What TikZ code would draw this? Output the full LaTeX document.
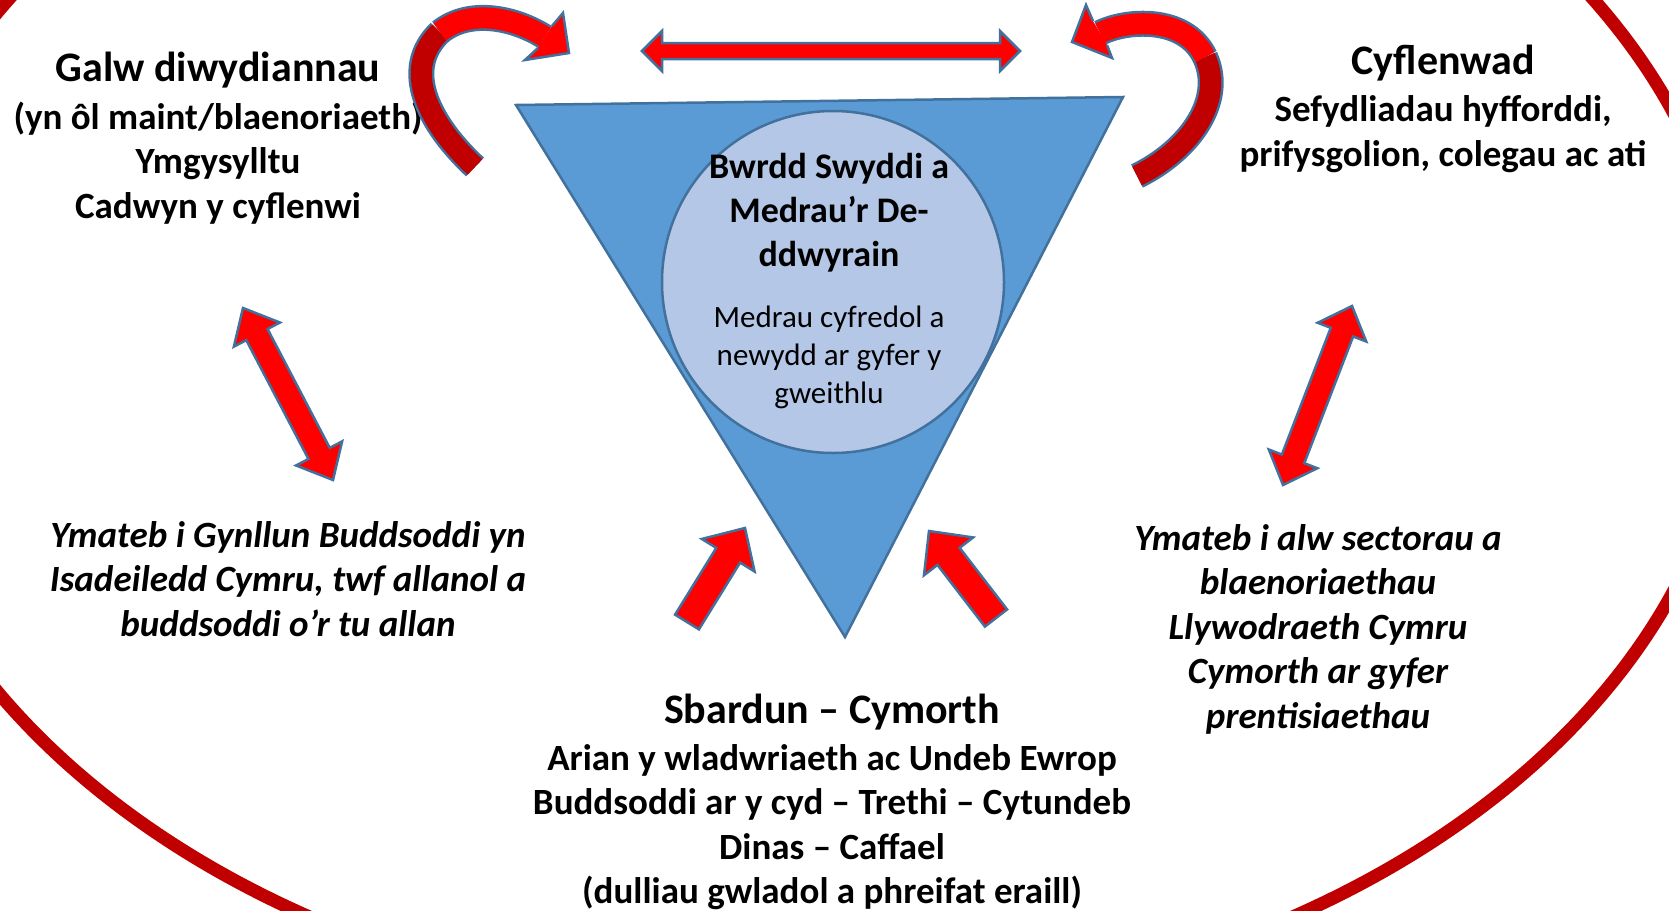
\documentclass[tikz,border=0pt]{standalone}
\usepackage{fontspec}
\setmainfont{Carlito}
\usetikzlibrary{calc,positioning}

\definecolor{edgeblue}{HTML}{41719C}
\definecolor{triblue}{HTML}{5B9BD5}
\definecolor{circblue}{HTML}{B4C7E7}
\definecolor{ringred}{HTML}{C00000}
\definecolor{arrowred}{HTML}{FF0000}

% double headed block arrow: from, to, head length, head half width, shaft half width
\newcommand{\dblarrow}[5]{%
  \draw[blockarrow] (#1)
    -- ($(#1)!#3!(#2)!#4!90:(#2)$) -- ($(#1)!#3!(#2)!#5!90:(#2)$)
    -- ($(#2)!#3!(#1)!#5!-90:(#1)$) -- ($(#2)!#3!(#1)!#4!-90:(#1)$)
    -- (#2)
    -- ($(#2)!#3!(#1)!#4!90:(#1)$) -- ($(#2)!#3!(#1)!#5!90:(#1)$)
    -- ($(#1)!#3!(#2)!#5!-90:(#2)$) -- ($(#1)!#3!(#2)!#4!-90:(#2)$) -- cycle;}
% single block arrow: tail, tip, head length, head half width, shaft half width
\newcommand{\blkarrow}[5]{%
  \draw[blockarrow] ($(#1)!#5!90:(#2)$)
    -- ($(#2)!#3!(#1)!#5!-90:(#1)$) -- ($(#2)!#3!(#1)!#4!-90:(#1)$)
    -- (#2)
    -- ($(#2)!#3!(#1)!#4!90:(#1)$) -- ($(#2)!#3!(#1)!#5!90:(#1)$)
    -- ($(#1)!#5!-90:(#2)$) -- cycle;}

\begin{document}
\begin{tikzpicture}[x=1bp, y=-1bp, on grid]
\tikzstyle{titletext} = [inner sep=0pt, align=center, font=\fontsize{42bp}{48bp}\selectfont\bfseries]
\tikzstyle{bodytext} = [inner sep=0pt, align=center, font=\fontsize{37bp}{44.5bp}\selectfont\bfseries]
\tikzstyle{italictext} = [inner sep=0pt, align=center, font=\fontsize{37bp}{44.5bp}\selectfont\bfseries\itshape]
\tikzstyle{boardtitle} = [inner sep=0pt, align=center, font=\fontsize{36bp}{44bp}\selectfont\bfseries]
\tikzstyle{boardbody} = [inner sep=0pt, align=center, font=\fontsize{31bp}{38bp}\selectfont]
\tikzstyle{circlenode} = [circle, minimum size=342bp, inner sep=0pt, draw=edgeblue, line width=2.5bp, fill=circblue]
\tikzstyle{blockarrow} = [draw=edgeblue, line width=2.5bp, fill=arrowred, line join=miter]
\tikzstyle{bandedge} = [draw=edgeblue, line width=26bp]
\tikzstyle{darkband} = [draw=ringred, line width=21bp]
\tikzstyle{brightband} = [draw=arrowred, line width=21bp]

\useasboundingbox (0,0) rectangle (1669,910);

% outer ring and centre
\draw[ringred, line width=13bp] (801,352) ellipse [x radius=935bp, y radius=664bp];
\draw[fill=triblue, draw=edgeblue, line width=2.5bp, line join=miter] (516,105) -- (1123,97) -- (845,637) -- cycle;
\node[circlenode] (board) at (833,282) {};
\node[boardtitle] (boardtxt) at (829,213) {Bwrdd Swyddi a\\Medrau’r De-\\ddwyrain};
\node[boardbody, below=144bp of boardtxt] (skills) {Medrau cyfredol a\\newydd ar gyfer y\\gweithlu};

% text blocks
\node[titletext] (demand) at (218,70) {Galw diwydiannau};
\node[bodytext, below=93bp of demand] (demandtxt) {(yn ôl maint/blaenoriaeth)\\Ymgysylltu\\Cadwyn y cyflenwi};
\node[titletext] (supply) at (1443,63) {Cyflenwad};
\node[bodytext, below=71bp of supply] (supplytxt) {Sefydliadau hyfforddi,\\prifysgolion, colegau ac ati};
\node[italictext] (invest) at (288,579) {Ymateb i Gynllun Buddsoddi yn\\Isadeiledd Cymru, twf allanol a\\buddsoddi o’r tu allan};
\node[italictext] (sectors) at (1318,629) {Ymateb i alw sectorau a\\blaenoriaethau\\Llywodraeth Cymru\\Cymorth ar gyfer\\prentisiaethau};
\node[titletext] (driver) at (832,712) {Sbardun – Cymorth};
\node[bodytext, below=115bp of driver] (drivertxt) {Arian y wladwriaeth ac Undeb Ewrop\\Buddsoddi ar y cyd – Trethi – Cytundeb\\Dinas – Caffael\\(dulliau gwladol a phreifat eraill)};

% arrow end points
\coordinate (topL) at (642,51);
\coordinate (topR) at (1020,51);
\coordinate (leftA) at (243,308);
\coordinate (leftB) at (333,480);
\coordinate (rightA) at (1352,306);
\coordinate (rightB) at (1283,485);
\coordinate (botLtail) at (687,622);
\coordinate (botLtip) at (745,528);
\coordinate (botRtail) at (996,618);
\coordinate (botRtip) at (929,531);

\dblarrow{topL}{topR}{20bp}{20bp}{8bp}
\dblarrow{leftA}{leftB}{30bp}{26bp}{12bp}
\dblarrow{rightA}{rightB}{28bp}{26bp}{12bp}
\blkarrow{botLtail}{botLtip}{32bp}{31bp}{14bp}
\blkarrow{botRtail}{botRtip}{32bp}{31bp}{14bp}

% curved arrow, top left
\coordinate (lcTail) at (475,167);
\coordinate (lcFold) at (440,32);
\coordinate (lcEnd) at (545,37);
\draw[bandedge] (lcTail) .. controls (430,125) and (400,70) .. (lcFold);
\draw[darkband] (lcTail) .. controls (430,125) and (400,70) .. (lcFold);
\draw[bandedge] (lcFold) .. controls (470,8) and (515,18) .. (lcEnd);
\draw[brightband] (lcFold) .. controls (470,8) and (515,18) .. (lcEnd);
\fill[arrowred] (552,26) -- (563,13) -- (569,53) -- (525,60) -- (538,48) -- cycle;
\draw[edgeblue, line width=2.5bp, line join=miter] (552,26) -- (563,13) -- (569,53) -- (525,60) -- (538,48);

% curved arrow, top right
\coordinate (rcTail) at (1137,176);
\coordinate (rcFold) at (1205,57);
\coordinate (rcEnd) at (1100,33);
\draw[bandedge] (rcTail) .. controls (1190,150) and (1225,100) .. (rcFold);
\draw[darkband] (rcTail) .. controls (1190,150) and (1225,100) .. (rcFold);
\draw[bandedge] (rcFold) .. controls (1185,15) and (1125,20) .. (rcEnd);
\draw[brightband] (rcFold) .. controls (1185,15) and (1125,20) .. (rcEnd);
\fill[arrowred] (1093,21) -- (1086,5) -- (1072,42) -- (1112,58) -- (1107,45) -- cycle;
\draw[edgeblue, line width=2.5bp, line join=miter] (1093,21) -- (1086,5) -- (1072,42) -- (1112,58) -- (1107,45);

\end{tikzpicture}
\end{document}
